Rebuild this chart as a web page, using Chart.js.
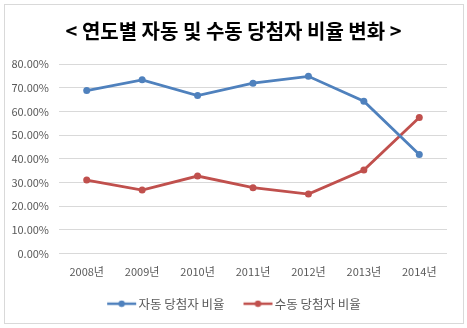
<!DOCTYPE html>
<html>
<head>
<meta charset="utf-8">
<script src="https://cdn.jsdelivr.net/npm/chart.js@4"></script>
<style>
  html, body { margin: 0; padding: 0; background: #fff; }
  #wrap { position: relative; width: 467px; height: 328px; }
  #frame { position: absolute; left: 4px; top: 4px; width: 460px; height: 320px; border: 1px solid #d9d9d9; box-sizing: border-box; pointer-events: none; }
  canvas { position: absolute; left: 0; top: 0; }
</style>
</head>
<body>
<div id="wrap">
  <canvas id="c" width="467" height="328"></canvas>
  <div id="frame"></div>
</div>
<script>
const years = ['2008년', '2009년', '2010년', '2011년', '2012년', '2013년', '2014년'];
const autoRate = [68.8, 73.3, 66.7, 71.9, 74.8, 64.3, 41.8];
const manualRate = [31.0, 26.8, 32.7, 27.8, 25.1, 35.2, 57.4];
const seriesNames = ['자동 당첨자 비율', '수동 당첨자 비율'];
const titleText = '< 연도별 자동 및 수동 당첨자 비율 변화 >';

const BLUE = '#4f81bd';
const RED = '#c0504d';
const FONT = "'Noto Sans CJK KR', 'Malgun Gothic', sans-serif";

// small legend swatch: a short line with a dot in the middle,
// offset to the right so it sits close to the label text
function swatch(color) {
  const cv = document.createElement('canvas');
  cv.width = 36; cv.height = 8;
  const g = cv.getContext('2d');
  g.strokeStyle = color; g.lineWidth = 2.5;
  g.beginPath(); g.moveTo(6, 4); g.lineTo(35, 4); g.stroke();
  g.fillStyle = color;
  g.beginPath(); g.arc(20.5, 4, 3.2, 0, Math.PI * 2); g.fill();
  return cv;
}

const colors = [BLUE, RED];

new Chart(document.getElementById('c'), {
  type: 'line',
  data: {
    labels: years,
    datasets: [
      { label: seriesNames[0], data: autoRate, borderColor: BLUE, backgroundColor: BLUE,
        borderWidth: 2.8, pointRadius: 3.5, pointBackgroundColor: BLUE, pointBorderWidth: 0, tension: 0 },
      { label: seriesNames[1], data: manualRate, borderColor: RED, backgroundColor: RED,
        borderWidth: 2.8, pointRadius: 3.5, pointBackgroundColor: RED, pointBorderWidth: 0, tension: 0 }
    ]
  },
  options: {
    responsive: false,
    animation: false,
    layout: { padding: { left: 0, right: 0, top: 8, bottom: 8 } },
    plugins: {
      title: {
        display: true,
        text: titleText,
        color: '#000',
        font: { family: FONT, size: 20, weight: 'bold' },
        padding: { top: 11, bottom: 21 }
      },
      legend: {
        position: 'bottom',
        labels: {
          color: '#595959',
          font: { family: FONT, size: 12.5 },
          usePointStyle: true,
          pointStyleWidth: 26,
          boxHeight: 8,
          padding: 18,
          generateLabels: (chart) => chart.data.datasets.map((ds, i) => ({
            text: ds.label,
            fillStyle: colors[i],
            strokeStyle: colors[i],
            pointStyle: swatch(colors[i]),
            datasetIndex: i,
            hidden: false,
            lineWidth: 0,
            fontColor: '#595959'
          }))
        }
      },
      tooltip: { enabled: false }
    },
    scales: {
      x: {
        offset: true,
        grid: { display: false, drawTicks: false },
        border: { display: false },
        ticks: { color: '#595959', font: { family: FONT, size: 11 }, padding: 12 },
        afterFit: (scale) => { scale.height = 26; }
      },
      y: {
        min: 0,
        max: 80,
        ticks: {
          stepSize: 10,
          color: '#595959',
          font: { family: FONT, size: 11 },
          padding: 10,
          callback: (v) => v.toFixed(2) + '%'
        },
        grid: { color: '#d9d9d9', lineWidth: 1, drawTicks: false },
        border: { display: false },
        afterFit: (scale) => { scale.width = 59; }
      },
      // empty right-hand margin so the plot stops short of the frame
      yRight: {
        position: 'right',
        display: true,
        grid: { display: false, drawTicks: false },
        border: { display: false },
        ticks: { display: false },
        afterFit: (scale) => { scale.width = 20; }
      }
    }
  }
});
</script>
</body>
</html>
